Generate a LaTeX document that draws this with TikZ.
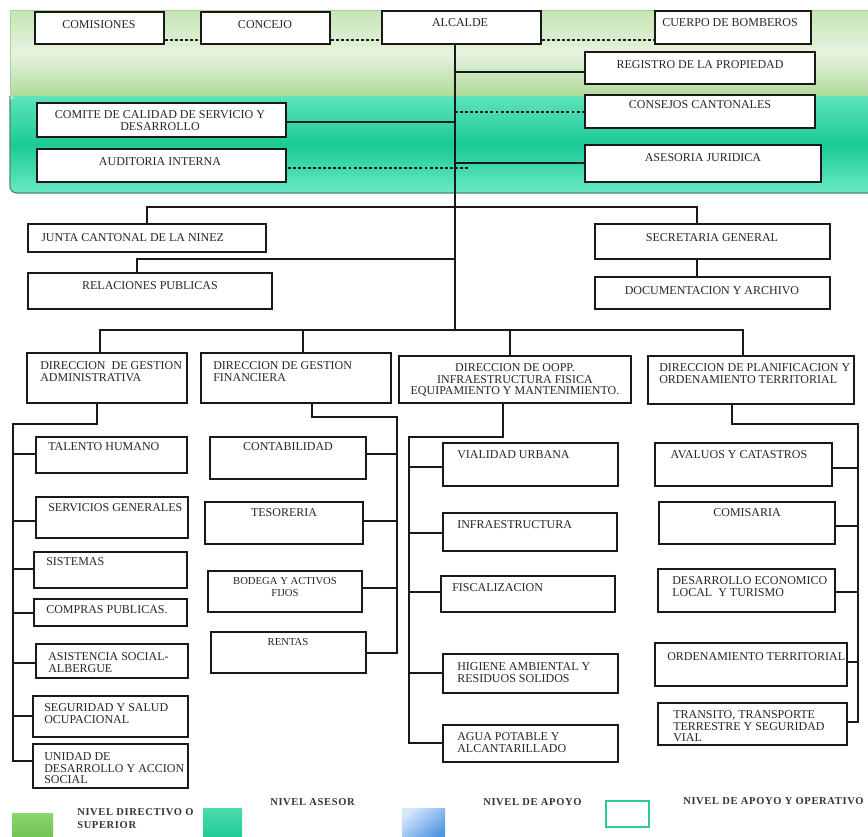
\documentclass[tikz,border=0pt]{standalone}
\usepackage{fontspec}
\setmainfont{Liberation Serif}
\usetikzlibrary{fit}
\definecolor{gTop}{HTML}{C6E5B3}
\definecolor{gMid}{HTML}{E6F3DF}
\definecolor{gBot}{HTML}{B0DA9A}
\definecolor{tTop}{HTML}{5FE3BB}
\definecolor{tMid}{HTML}{1ACB96}
\definecolor{tBot}{HTML}{6AEAC6}
\definecolor{tEdge}{HTML}{4A8A74}
\definecolor{gEdge}{HTML}{A9CF9A}
\definecolor{lgA}{HTML}{8ED46F}
\definecolor{lgB}{HTML}{6EC24E}
\definecolor{ltA}{HTML}{4ADCAE}
\definecolor{ltB}{HTML}{1CC892}
\definecolor{lbA}{HTML}{D5E6FB}
\definecolor{lbB}{HTML}{4F95E2}
\definecolor{ltO}{HTML}{2EC79A}
\newcommand\cbox[7]{%
  \path (#2,#3) coordinate (#1nw) (#4,#5) coordinate (#1se);
  \node[bx, fit=(#1nw)(#1se)] (#1) {};
  \node[tx, anchor=north, align=center] (#1t) at (#6) {#7};}
\newcommand\lbox[7]{%
  \path (#2,#3) coordinate (#1nw) (#4,#5) coordinate (#1se);
  \node[bx, fit=(#1nw)(#1se)] (#1) {};
  \node[tx, anchor=north west, align=left] (#1t) at (#6) {#7};}
\newcommand\smf{\fontsize{8}{8.4}\selectfont}
\begin{document}
\begin{tikzpicture}[x=0.75pt,y=-0.75pt,
  bx/.style={draw=black!90, line width=0.9pt, fill=white, inner sep=0pt},
  tx/.style={inner sep=0pt, font=\fontsize{9}{8.9}\selectfont, text=black!85},
  ln/.style={line width=0.85pt, draw=black!90},
  dl/.style={ln, dash pattern=on 2.2pt off 1.6pt},
  lg/.style={inner sep=0pt, anchor=north west, align=left, text=black!80,
    font=\fontsize{7.9}{9.6}\selectfont\bfseries\addfontfeatures{LetterSpace=6}}]
\useasboundingbox (0,0) rectangle (868,836);
\clip (0,0) rectangle (868,836);
% background bands
\shade[top color=gTop, bottom color=gBot, middle color=gMid] (10,10) rectangle (875,96);
\draw[gEdge, line width=0.6pt] (10,96) -- (10,10) -- (875,10);
\shade[top color=tTop, bottom color=tBot, middle color=tMid, rounded corners=5pt] (10,96) -- (10,193) -- (880,193) -- (880,96) -- cycle;
\draw[tEdge, line width=0.9pt, rounded corners=5pt] (10,96) -- (10,193) -- (880,193);
% top row
\cbox{com}{35}{12}{164}{44}{99,20}{COMISIONES}
\cbox{con}{201}{12}{330}{44}{265,20}{CONCEJO}
\cbox{alc}{382}{11}{541}{44}{460,18}{ALCALDE}
\cbox{cue}{655}{11}{811}{44}{730,18}{CUERPO DE BOMBEROS}
\cbox{reg}{585}{52}{815}{84}{700,60}{REGISTRO DE LA PROPIEDAD}
\cbox{cmt}{37}{103}{286}{137}{160,110}{COMITE DE CALIDAD DE SERVICIO Y\\DESARROLLO}
\cbox{cns}{585}{95}{815}{128}{700,100}{CONSEJOS CANTONALES}
\cbox{aud}{37}{149}{286}{182}{160,157}{AUDITORIA INTERNA}
\cbox{ase}{585}{145}{821}{182}{703,153}{ASESORIA JURIDICA}
% second section
\lbox{jun}{28}{224}{266}{252}{41,233}{JUNTA CANTONAL DE LA NINEZ}
\cbox{rel}{28}{273}{272}{309}{150,281}{RELACIONES PUBLICAS}
\cbox{sec}{595}{224}{830}{259}{712,233}{SECRETARIA GENERAL}
\cbox{doc}{595}{277}{830}{309}{712,286}{DOCUMENTACION Y ARCHIVO}
% directions
\lbox{dga}{27}{353}{187}{403}{40,361}{DIRECCION\ \ DE GESTION\\ADMINISTRATIVA}
\lbox{dgf}{201}{353}{391}{403}{213,361}{DIRECCION DE GESTION\\FINANCIERA}
\cbox{dop}{399}{356}{631}{403}{515,363}{DIRECCION DE OOPP.\\INFRAESTRUCTURA FISICA\\EQUIPAMIENTO Y MANTENIMIENTO.}
\lbox{dpl}{648}{356}{854}{404}{659,363}{DIRECCION DE PLANIFICACION Y\\ORDENAMIENTO TERRITORIAL}
% administrativa
\lbox{tal}{36}{437}{187}{473}{48,442}{TALENTO HUMANO}
\lbox{ser}{36}{497}{188}{538}{48,503}{SERVICIOS GENERALES}
\lbox{sis}{34}{552}{187}{588}{46,557}{SISTEMAS}
\lbox{cmp}{34}{599}{187}{626}{46,605}{COMPRAS PUBLICAS.}
\lbox{asi}{36}{644}{188}{678}{48,652}{ASISTENCIA SOCIAL-\\ALBERGUE}
\lbox{seg}{33}{696}{188}{737}{44,703}{SEGURIDAD Y SALUD\\OCUPACIONAL}
\lbox{uni}{33}{744}{188}{788}{44,752}{UNIDAD DE\\DESARROLLO Y ACCION\\SOCIAL}
% financiera
\cbox{cnt}{210}{437}{366}{479}{288,442}{CONTABILIDAD}
\cbox{tes}{205}{502}{363}{544}{284,508}{TESORERIA}
\cbox{bod}{208}{571}{362}{612}{285,577}{\smf BODEGA Y ACTIVOS\\\smf FIJOS}
\cbox{ren}{211}{632}{366}{673}{288,638}{\smf RENTAS}
% oopp
\lbox{via}{443}{443}{618}{486}{457,450}{VIALIDAD URBANA}
\lbox{inf}{443}{513}{617}{551}{457,520}{INFRAESTRUCTURA}
\lbox{fis}{441}{576}{615}{612}{452,583}{FISCALIZACION}
\lbox{hig}{443}{654}{618}{693}{457,662}{HIGIENE AMBIENTAL Y\\RESIDUOS SOLIDOS}
\lbox{agu}{443}{725}{618}{762}{457,732}{AGUA POTABLE Y\\ALCANTARILLADO}
% planificacion
\cbox{ava}{655}{443}{832}{486}{739,450}{AVALUOS Y CATASTROS}
\cbox{cms}{659}{502}{835}{544}{747,508}{COMISARIA}
\lbox{des}{658}{569}{835}{612}{672,576}{DESARROLLO ECONOMICO\\LOCAL\ \ Y TURISMO}
\lbox{ord}{655}{643}{847}{686}{667,652}{ORDENAMIENTO TERRITORIAL}
\lbox{tra}{658}{703}{847}{745}{673,710}{TRANSITO, TRANSPORTE\\TERRESTRE Y SEGURIDAD\\VIAL}
% connectors: top
\coordinate (dy) at (0,40);
\draw[dl] (com.east |- dy) -- (con.west |- dy);
\draw[dl] (con.east |- dy) -- (alc.west |- dy);
\draw[dl] (alc.east |- dy) -- (cue.west |- dy);
\coordinate (tA) at (455,72);
\coordinate (tB) at (455,112);
\coordinate (tC) at (455,122);
\coordinate (tD) at (455,163);
\coordinate (tE) at (468,168);
\coordinate (tF) at (455,259);
\coordinate (tH) at (455,330);
\draw[ln] (alc.south -| tH) -- (tH);
\draw[ln] (tA) -- (tA -| reg.west);
\draw[dl] (tB) -- (tB -| cns.west);
\draw[ln] (tC) -- (tC -| cmt.east);
\draw[ln] (tD) -- (tD -| ase.west);
\draw[dl] (tE) -- (tE -| aud.east);
% second section
\coordinate (h1) at (147,207);
\coordinate (h2) at (697,207);
\coordinate (h3) at (137,259);
\draw[ln] (h1 |- jun.north) -- (h1) -- (h2) -- (h2 |- sec.north);
\draw[ln] (h3 |- rel.north) -- (h3) -- (tF);
\draw[ln] (sec.south -| h2) -- (doc.north -| h2);
% bus
\coordinate (b1) at (100,330);
\coordinate (b2) at (303,330);
\coordinate (b3) at (510,330);
\coordinate (b4) at (743,330);
\draw[ln] (b1 |- dga.north) -- (b1) -- (b4) -- (b4 |- dpl.north);
\draw[ln] (b2) -- (b2 |- dgf.north);
\draw[ln] (b3) -- (b3 |- dop.north);
% administrativa bracket
\coordinate (a0) at (97,424);
\coordinate (a1) at (13,424);
\coordinate (a2) at (13,761);
\draw[ln] (dga.south -| a0) -- (a0) -- (a1) -- (a2) -- (a2 -| uni.west);
\foreach \n/\yy in {tal/454, ser/521, sis/569, cmp/613, asi/663, seg/716}{
  \coordinate (ka) at (13,\yy);
  \draw[ln] (ka) -- (ka -| \n.west);}
% financiera bracket
\coordinate (f0) at (312,417);
\coordinate (f1) at (397,417);
\coordinate (f2) at (397,653);
\draw[ln] (dgf.south -| f0) -- (f0) -- (f1) -- (f2) -- (f2 -| ren.east);
\foreach \n/\yy in {cnt/454, tes/521, bod/588}{
  \coordinate (kf) at (397,\yy);
  \draw[ln] (kf) -- (kf -| \n.east);}
% oopp bracket
\coordinate (o0) at (503,437);
\coordinate (o1) at (409,437);
\coordinate (o2) at (409,743);
\draw[ln] (dop.south -| o0) -- (o0) -- (o1) -- (o2) -- (o2 -| agu.west);
\foreach \n/\yy in {via/467, inf/533, fis/592, hig/673}{
  \coordinate (ko) at (409,\yy);
  \draw[ln] (ko) -- (ko -| \n.west);}
% planificacion bracket
\coordinate (p0) at (732,424);
\coordinate (p1) at (858,424);
\coordinate (p2) at (858,722);
\draw[ln] (dpl.south -| p0) -- (p0) -- (p1) -- (p2) -- (p2 -| tra.east);
\foreach \n/\yy in {ava/468, cms/526, des/592, ord/662}{
  \coordinate (kp) at (858,\yy);
  \draw[ln] (kp) -- (kp -| \n.east);}
% legend
\shade[top color=lgA, bottom color=lgB] (12,813) rectangle (53,840);
\shade[top color=ltA, bottom color=ltB] (203,808) rectangle (242,840);
\shade[top color=lbA, bottom color=lbB, shading angle=40] (402,808) rectangle (445,840);
\draw[ltO, line width=1.6pt, fill=white] (606,801) rectangle (649,827);
\node[lg] (lg1) at (77,808) {NIVEL DIRECTIVO O\\SUPERIOR};
\node[lg] (lg2) at (270,798) {NIVEL ASESOR};
\node[lg] (lg3) at (483,798) {NIVEL DE APOYO};
\node[lg] (lg4) at (683,797) {NIVEL DE APOYO Y OPERATIVO};
\end{tikzpicture}
\end{document}
